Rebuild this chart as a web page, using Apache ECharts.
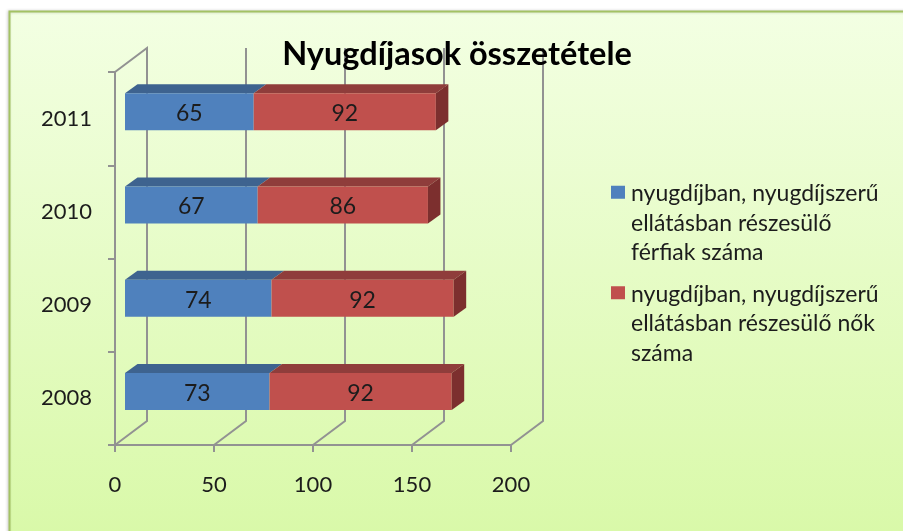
<!DOCTYPE html>
<html><head><meta charset="utf-8">
<style>html,body{margin:0;padding:0;background:#fff}#c{width:903px;height:531px}</style>
<script src="https://cdn.jsdelivr.net/npm/echarts@6/dist/echarts.min.js"></script>
</head><body><div id="c"></div>
<script>
const titleText = 'Nyugdíjasok összetétele';
const categories = ['2008', '2009', '2010', '2011'];
const menValues = [73, 74, 67, 65];
const womenValues = [92, 92, 86, 92];
const xTickValues = [0, 50, 100, 150, 200];
const menName = 'nyugdíjban, nyugdíjszerű\nellátásban részesülő\nférfiak száma';
const womenName = 'nyugdíjban, nyugdíjszerű\nellátásban részesülő nők\nszáma';

const FONT = 'Lato';
const GRID_LINE = '#929292';
const LW = 2;
const WALL_DX = 32, WALL_DY = -24;
const BAR_DX = 10, BAR_DY = -7, BAR_H = 37, DEPTH_X = 12.5, DEPTH_Y = -9;

function wallItem(params, api) {
  const t = api.value(0);
  const band = api.size([0, 1])[1];
  const x = api.coord([t, 0])[0];
  const floor = api.coord([t, 0])[1] + band / 2;
  const top = api.coord([t, categories.length - 1])[1] - band / 2;
  const pts = [[x, floor], [x + WALL_DX, floor + WALL_DY], [x + WALL_DX, top + WALL_DY]];
  if (t === 0) pts.push([x, top]);
  return {
    type: 'polyline', shape: { points: pts },
    style: { fill: 'none', stroke: GRID_LINE, lineWidth: LW }
  };
}

function barRenderer(front, topCol, sideCol, drawSide) {
  return function (params, api) {
    const start = api.value(0), val = api.value(1), idx = api.value(2);
    const a = api.coord([start, idx]), b = api.coord([start + val, idx]);
    const x0 = a[0] + BAR_DX, x1 = b[0] + BAR_DX;
    const yT = a[1] + BAR_DY - BAR_H / 2, yB = yT + BAR_H;
    const kids = [
      { type: 'polygon', shape: { points: [[x0, yT], [x0 + DEPTH_X, yT + DEPTH_Y], [x1 + DEPTH_X, yT + DEPTH_Y], [x1, yT]] }, style: { fill: topCol } },
      { type: 'rect', shape: { x: x0, y: yT, width: x1 - x0, height: BAR_H }, style: { fill: front } }
    ];
    if (drawSide) kids.push({ type: 'polygon', shape: { points: [[x1, yT], [x1 + DEPTH_X, yT + DEPTH_Y], [x1 + DEPTH_X, yB + DEPTH_Y], [x1, yB]] }, style: { fill: sideCol } });
    kids.push({ type: 'text', style: { text: String(val), x: (x0 + x1) / 2, y: (yT + yB) / 2 + 2, align: 'center', verticalAlign: 'middle', fill: '#1c1c1c', font: '23px ' + FONT } });
    return { type: 'group', children: kids };
  };
}

const legendIcon = 'path://M0 0H14V13H0Z M0 75L0.01 75L0 75.01Z';
const chart = echarts.init(document.getElementById('c'), null, { renderer: 'canvas' });
chart.setOption({
  animation: false,
  backgroundColor: '#ffffff',
  graphic: [{
    type: 'rect', z: -10, silent: true,
    shape: { x: 9.5, y: 11.5, width: 1000, height: 600 },
    style: {
      fill: new echarts.graphic.LinearGradient(0, 0, 0, 1, [
        { offset: 0, color: '#f3ffe3' }, { offset: 1, color: '#d5f8a0' }
      ]),
      stroke: '#a3c264', lineWidth: 2,
      shadowColor: 'rgba(0,0,0,0.2)', shadowBlur: 3, shadowOffsetX: -1
    }
  }],
  title: {
    text: titleText, left: 452, top: 33, textAlign: 'center',
    textStyle: { fontFamily: FONT, fontSize: 32.5, fontWeight: 'bold', color: '#000' }
  },
  grid: { left: 115, top: 72, width: 396, height: 373 },
  legend: {
    left: 606, top: 174, orient: 'vertical', itemWidth: 14, itemHeight: 75, itemGap: 12,
    selectedMode: false, icon: legendIcon,
    textStyle: { fontFamily: FONT, fontSize: 23, lineHeight: 29.5, color: '#1c1c1c', padding: [0, 0, 0, 1] },
    data: [{ name: menName, icon: legendIcon }, { name: womenName, icon: legendIcon }]
  },
  xAxis: {
    type: 'value', min: 0, max: 200, interval: 50,
    axisLine: { show: true, onZero: false, lineStyle: { color: GRID_LINE, width: LW } },
    axisTick: { show: true, length: 7, lineStyle: { color: GRID_LINE, width: LW } },
    axisLabel: { fontFamily: FONT, fontSize: 22, color: '#1c1c1c', margin: 29 },
    splitLine: { show: false }
  },
  yAxis: {
    type: 'category', data: categories,
    axisLine: { show: true, lineStyle: { color: GRID_LINE, width: LW } },
    axisTick: { show: true, length: 7, lineStyle: { color: GRID_LINE, width: LW } },
    axisLabel: { fontFamily: FONT, fontSize: 22, color: '#1c1c1c', margin: 23, padding: [2, 0, 0, 0] },
    splitLine: { show: false }
  },
  series: [
    {
      type: 'custom', name: 'wall', z: 1, silent: true,
      encode: { x: 0, y: 1 },
      data: xTickValues.map(t => [t, 0]),
      renderItem: wallItem
    },
    {
      type: 'custom', name: menName, z: 3, itemStyle: { color: '#4f81bd' },
      encode: { x: [0, 1], y: 2 },
      data: menValues.map((v, i) => [0, v, i]),
      renderItem: barRenderer('#4f81bd', '#3e638f', '#3a5f8a', false)
    },
    {
      type: 'custom', name: womenName, z: 4, itemStyle: { color: '#c0504d' },
      encode: { x: [0, 1], y: 2 },
      data: womenValues.map((v, i) => [menValues[i], v, i]),
      renderItem: barRenderer('#c0504d', '#8f3d3b', '#7c2f2e', true)
    }
  ]
});
</script></body></html>
